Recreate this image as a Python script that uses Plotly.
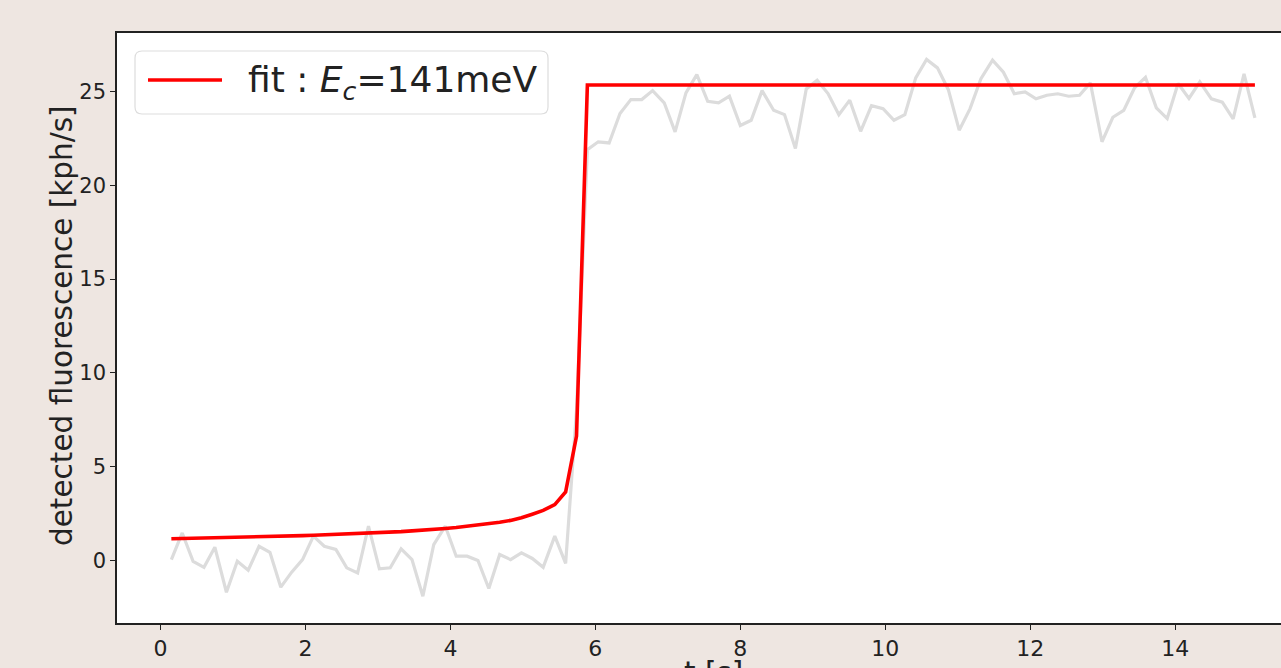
import plotly.graph_objects as go

# ---- data ----
t_s = [0.15, 0.30, 0.45, 0.60, 0.75, 0.91, 1.06, 1.21, 1.36, 1.51,
       1.66, 1.81, 1.96, 2.11, 2.26, 2.42, 2.57, 2.72, 2.87, 3.02,
       3.17, 3.32, 3.47, 3.62, 3.77, 3.93, 4.08, 4.23, 4.38, 4.53,
       4.68, 4.83, 4.98, 5.13, 5.28, 5.44, 5.59, 5.74, 5.89, 6.04,
       6.19, 6.34, 6.49, 6.64, 6.79, 6.95, 7.10, 7.25, 7.40, 7.55,
       7.70, 7.85, 8.00, 8.15, 8.30, 8.46, 8.61, 8.76, 8.91, 9.06,
       9.21, 9.36, 9.51, 9.66, 9.81, 9.97, 10.12, 10.27, 10.42, 10.57,
       10.72, 10.87, 11.02, 11.17, 11.32, 11.48, 11.63, 11.78, 11.93, 12.08,
       12.23, 12.38, 12.53, 12.68, 12.83, 12.99, 13.14, 13.29, 13.44, 13.59,
       13.74, 13.89, 14.04, 14.19, 14.34, 14.50, 14.65, 14.80, 14.95, 15.10]

measured = [0.05, 1.47, -0.04, -0.36, 0.71, -1.69, -0.04, -0.52, 0.76, 0.44,
            -1.42, -0.62, 0.05, 1.30, 0.76, 0.59, -0.39, -0.66, 1.83, -0.44,
            -0.39, 0.62, 0.05, -1.90, 0.85, 1.83, 0.23, 0.23, 0.00, -1.49,
            0.32, 0.05, 0.41, 0.11, -0.36, 1.30, -0.15, 8.0, 21.9, 22.32,
            22.26, 23.83, 24.57, 24.57, 25.05, 24.40, 22.85, 24.93, 25.90, 24.48,
            24.40, 24.75, 23.19, 23.47, 25.05, 24.00, 23.77, 21.96, 25.14, 25.60,
            24.89, 23.76, 24.54, 22.88, 24.25, 24.09, 23.47, 23.77, 25.73, 26.71,
            26.26, 25.10, 22.94, 24.09, 25.68, 26.67, 26.03, 24.88, 24.98, 24.61,
            24.80, 24.88, 24.75, 24.80, 25.46, 22.32, 23.63, 23.99, 25.20, 25.76,
            24.13, 23.56, 25.43, 24.63, 25.52, 24.61, 24.43, 23.54, 25.94, 23.60]

fit_rise = [1.16, 1.17, 1.18, 1.20, 1.21, 1.22, 1.24, 1.25, 1.27, 1.28,
            1.30, 1.31, 1.33, 1.35, 1.37, 1.39, 1.41, 1.43, 1.46, 1.48,
            1.51, 1.54, 1.58, 1.61, 1.66, 1.71, 1.76, 1.82, 1.89, 1.96,
            2.04, 2.14, 2.28, 2.47, 2.67, 2.98, 3.66, 6.63]
fit_plateau = 25.35
fit = fit_rise + [fit_plateau] * (len(t_s) - len(fit_rise))

x_ticks = [0, 2, 4, 6, 8, 10, 12, 14]
y_ticks = [0, 5, 10, 15, 20, 25]
legend_label = "fit : <i>E</i><sub><i>c</i></sub>=141meV"
x_title = "t [s]"
y_title = "detected fluorescence [kph/s]"

# ---- layout constants (pixels) ----
W, H = 1281, 668
L, R, T, B = 117, 0, 33, 45
PW, PH = W - L - R, H - T - B
FONT = "DejaVu Sans"
INK = "#222222"


def px(x):
    return (x - L) / PW


def py(y):
    return (H - B - y) / PH


fig = go.Figure()
fig.add_trace(go.Scatter(x=t_s, y=measured, mode="lines",
                         line=dict(color="#dcdcdc", width=3.2),
                         showlegend=False, hoverinfo="skip"))
fig.add_trace(go.Scatter(x=t_s, y=fit, mode="lines",
                         line=dict(color="#ff0000", width=3.6),
                         showlegend=False, name="fit"))

# custom legend box (rounded)
bx0, bx1, by0, by1, r = 135, 548, 51, 114, 7
rx, ry = r / PW, r / PH
X0, X1, Y0, Y1 = px(bx0), px(bx1), py(by1), py(by0)
path = (f"M {X0+rx},{Y1} L {X1-rx},{Y1} Q {X1},{Y1} {X1},{Y1-ry} "
        f"L {X1},{Y0+ry} Q {X1},{Y0} {X1-rx},{Y0} "
        f"L {X0+rx},{Y0} Q {X0},{Y0} {X0},{Y0+ry} "
        f"L {X0},{Y1-ry} Q {X0},{Y1} {X0+rx},{Y1} Z")
fig.add_shape(type="path", path=path, xref="paper", yref="paper",
              line=dict(color="#dddddd", width=1.2),
              fillcolor="rgba(255,255,255,0.85)", layer="above")
fig.add_shape(type="line", xref="paper", yref="paper",
              x0=px(148), x1=px(222), y0=py(80), y1=py(80),
              line=dict(color="#ff0000", width=3.6), layer="above")
fig.add_annotation(text=legend_label, xref="paper", yref="paper",
                   x=px(246), y=py(82), xanchor="left", yanchor="middle",
                   showarrow=False, font=dict(family=FONT, size=36, color=INK))

# axis titles as annotations
fig.add_annotation(text=y_title, xref="paper", yref="paper",
                   x=px(62), y=py(326), xanchor="center", yanchor="middle",
                   textangle=-90, showarrow=False,
                   font=dict(family=FONT, size=29.5, color=INK))
fig.add_annotation(text=x_title, xref="x", yref="paper",
                   x=7.625, y=py(654), xanchor="center", yanchor="top",
                   showarrow=False, font=dict(family=FONT, size=29.5, color=INK))

fig.update_layout(
    width=W, height=H,
    margin=dict(l=L, r=R, t=T, b=B, pad=0),
    paper_bgcolor="#eee6e1",
    plot_bgcolor="#ffffff",
    font=dict(family=FONT, color=INK),
    showlegend=False,
    xaxis=dict(range=[-0.6, 15.46], tickvals=x_ticks, showgrid=False,
               zeroline=False, showline=True, mirror=True,
               linecolor=INK, linewidth=1.6,
               ticks="outside", ticklen=5, tickwidth=1.2, tickcolor=INK,
               tickfont=dict(family=FONT, size=22, color=INK)),
    yaxis=dict(range=[-3.33, 28.12], tickvals=y_ticks, showgrid=False,
               zeroline=False, showline=True, mirror=False,
               linecolor=INK, linewidth=1.6,
               ticks="outside", ticklen=5, tickwidth=1.2, tickcolor=INK,
               tickfont=dict(family=FONT, size=21, color=INK)),
)

fig.write_html(
    "out.html",
    config={"displayModeBar": False},
    post_script="document.body.style.margin='0';"
                "document.body.style.overflow='hidden';"
                "document.body.style.background='#eee6e1';",
)
